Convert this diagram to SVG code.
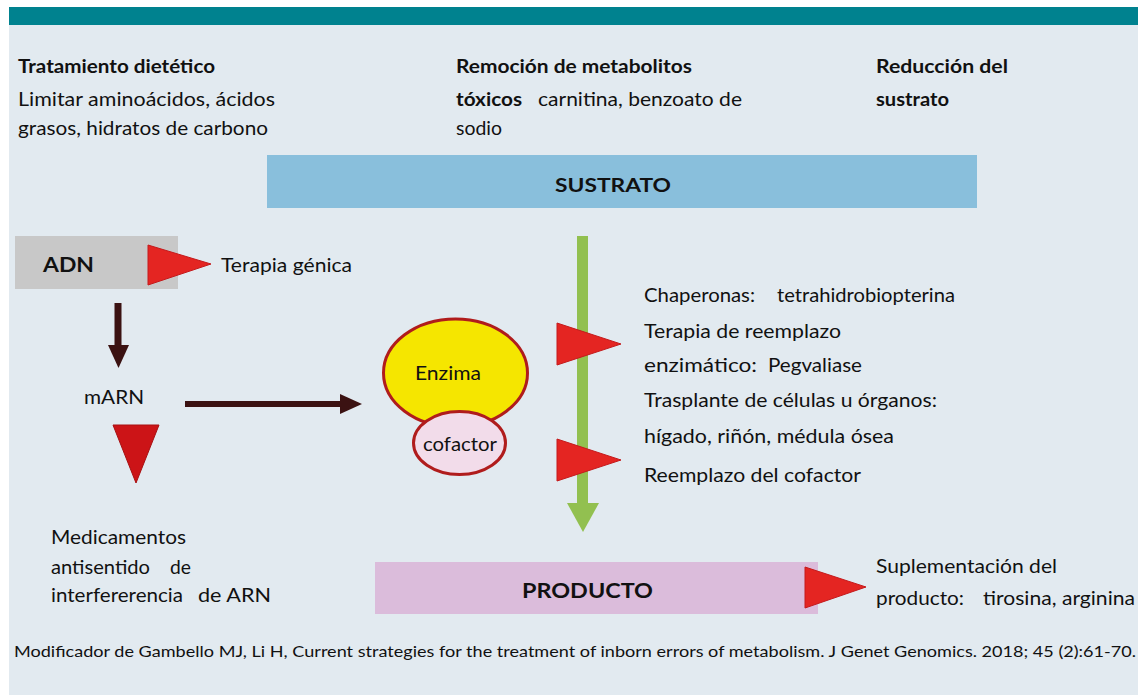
<svg xmlns="http://www.w3.org/2000/svg" width="1138" height="695" viewBox="0 0 1138 695">
<style>
  text { font-family: Lato, "Open Sans", "Noto Sans", sans-serif; fill: #111; }
  .t { font-size: 19px; }
  .b { font-size: 19px; font-weight: bold; }
  .big { font-size: 21px; font-weight: bold; }
  .cit { font-size: 16px; }
  .tri { fill: #e42522; stroke: #c41a1c; stroke-width: 1; }
  .dk { fill: #3b1212; }
</style>
<rect x="0" y="0" width="1138" height="695" fill="#ffffff"/>
<rect x="9" y="25" width="1129" height="670" fill="#e2eaf0"/>
<rect x="9" y="7" width="1129" height="18" fill="#00828f"/>

<g id="headers">
  <text class="b" x="18" y="73" textLength="197" lengthAdjust="spacingAndGlyphs">Tratamiento dietético</text>
  <text class="t" x="18" y="106" textLength="257" lengthAdjust="spacingAndGlyphs">Limitar aminoácidos, ácidos</text>
  <text class="t" x="18" y="135" textLength="250" lengthAdjust="spacingAndGlyphs">grasos, hidratos de carbono</text>
  <text class="b" x="456" y="73" textLength="236" lengthAdjust="spacingAndGlyphs">Remoción de metabolitos</text>
  <text class="b" x="456" y="106" textLength="66" lengthAdjust="spacingAndGlyphs">tóxicos</text>
  <text class="t" x="538" y="106" textLength="204" lengthAdjust="spacingAndGlyphs">carnitina, benzoato de</text>
  <text class="t" x="456" y="135" textLength="46" lengthAdjust="spacingAndGlyphs">sodio</text>
  <text class="b" x="876" y="73" textLength="132" lengthAdjust="spacingAndGlyphs">Reducción del</text>
  <text class="b" x="876" y="106" textLength="73" lengthAdjust="spacingAndGlyphs">sustrato</text>
</g>

<g id="sustrato">
  <rect x="267" y="155" width="710" height="53" fill="#89bfdc"/>
  <text class="b" x="555" y="192" textLength="116" lengthAdjust="spacingAndGlyphs" font-size="20">SUSTRATO</text>
</g>

<g id="adn">
  <rect x="15" y="236" width="163" height="53" fill="#c8c8c8"/>
  <text class="big" x="43" y="272" textLength="51" lengthAdjust="spacingAndGlyphs">ADN</text>
</g>

<g id="terapia-genica">
  <polygon class="tri" points="148,245 211,264 148,285"/>
  <text class="t" x="221" y="272" textLength="131" lengthAdjust="spacingAndGlyphs">Terapia génica</text>
</g>

<g id="marn">
  <text class="t" x="84" y="404" textLength="60" lengthAdjust="spacingAndGlyphs">mARN</text>
</g>

<g id="antisentido">
  <polygon points="113,425 159,425 136,483" fill="#cc1417" stroke="#a81012" stroke-width="1"/>
  <text class="t" x="51" y="544" textLength="135" lengthAdjust="spacingAndGlyphs">Medicamentos</text>
  <text class="t" x="51" y="574" textLength="99" lengthAdjust="spacingAndGlyphs">antisentido</text>
  <text class="t" x="170" y="574" textLength="21" lengthAdjust="spacingAndGlyphs">de</text>
  <text class="t" x="51" y="602" textLength="132" lengthAdjust="spacingAndGlyphs">interfererencia</text>
  <text class="t" x="198" y="602" textLength="73" lengthAdjust="spacingAndGlyphs">de ARN</text>
</g>

<g id="enzima">
  <ellipse cx="455.5" cy="373" rx="72" ry="54" fill="#f5e600" stroke="#b01c1c" stroke-width="3"/>
  <text class="t" x="415" y="380" textLength="66" lengthAdjust="spacingAndGlyphs">Enzima</text>
</g>

<g id="cofactor">
  <ellipse cx="459.5" cy="443" rx="46" ry="31.5" fill="#f2dcea" stroke="#b01c1c" stroke-width="3"/>
  <text class="t" x="423" y="451" textLength="74" lengthAdjust="spacingAndGlyphs">cofactor</text>
</g>

<g id="connectors">
  <rect class="dk" x="114.5" y="303" width="7" height="43"/>
  <polygon class="dk" points="108,345 129,345 118.5,368"/>
  <rect class="dk" x="185" y="401" width="157" height="6"/>
  <polygon class="dk" points="340,394 362,404 340,414"/>
  <rect x="577" y="236" width="11" height="268" fill="#92c050"/>
  <polygon points="567,503 599,503 583,532" fill="#92c050"/>
</g>

<g id="terapias-enzima">
  <polygon class="tri" points="557,323 621,344 557,365"/>
  <polygon class="tri" points="557,439 621,460 557,481"/>
  <text class="t" x="644" y="302" textLength="111" lengthAdjust="spacingAndGlyphs">Chaperonas:</text>
  <text class="t" x="777" y="302" textLength="178" lengthAdjust="spacingAndGlyphs">tetrahidrobiopterina</text>
  <text class="t" x="644" y="338" textLength="197" lengthAdjust="spacingAndGlyphs">Terapia de reemplazo</text>
  <text class="t" x="644" y="372" textLength="113" lengthAdjust="spacingAndGlyphs">enzimático:</text>
  <text class="t" x="768" y="372" textLength="94" lengthAdjust="spacingAndGlyphs">Pegvaliase</text>
  <text class="t" x="644" y="407" textLength="293" lengthAdjust="spacingAndGlyphs">Trasplante de células u órganos:</text>
  <text class="t" x="644" y="443" textLength="250" lengthAdjust="spacingAndGlyphs">hígado, riñón, médula ósea</text>
  <text class="t" x="644" y="482" textLength="217" lengthAdjust="spacingAndGlyphs">Reemplazo del cofactor</text>
</g>

<g id="producto">
  <rect x="375" y="562" width="443" height="52" fill="#dbbcdb"/>
  <text class="big" x="522" y="598" textLength="131" lengthAdjust="spacingAndGlyphs">PRODUCTO</text>
</g>

<g id="suplementacion">
  <polygon class="tri" points="805,567 866,587 805,608"/>
  <text class="t" x="876" y="573" textLength="181" lengthAdjust="spacingAndGlyphs">Suplementación del</text>
  <text class="t" x="876" y="605" textLength="88" lengthAdjust="spacingAndGlyphs">producto:</text>
  <text class="t" x="983" y="605" textLength="152" lengthAdjust="spacingAndGlyphs">tirosina, arginina</text>
</g>

<g id="cita">
  <text class="cit" x="14" y="657" textLength="1122" lengthAdjust="spacingAndGlyphs">Modificador de Gambello MJ, Li H, Current strategies for the treatment of inborn errors of metabolism. J Genet Genomics. 2018; 45 (2):61-70.</text>
</g>
</svg>
